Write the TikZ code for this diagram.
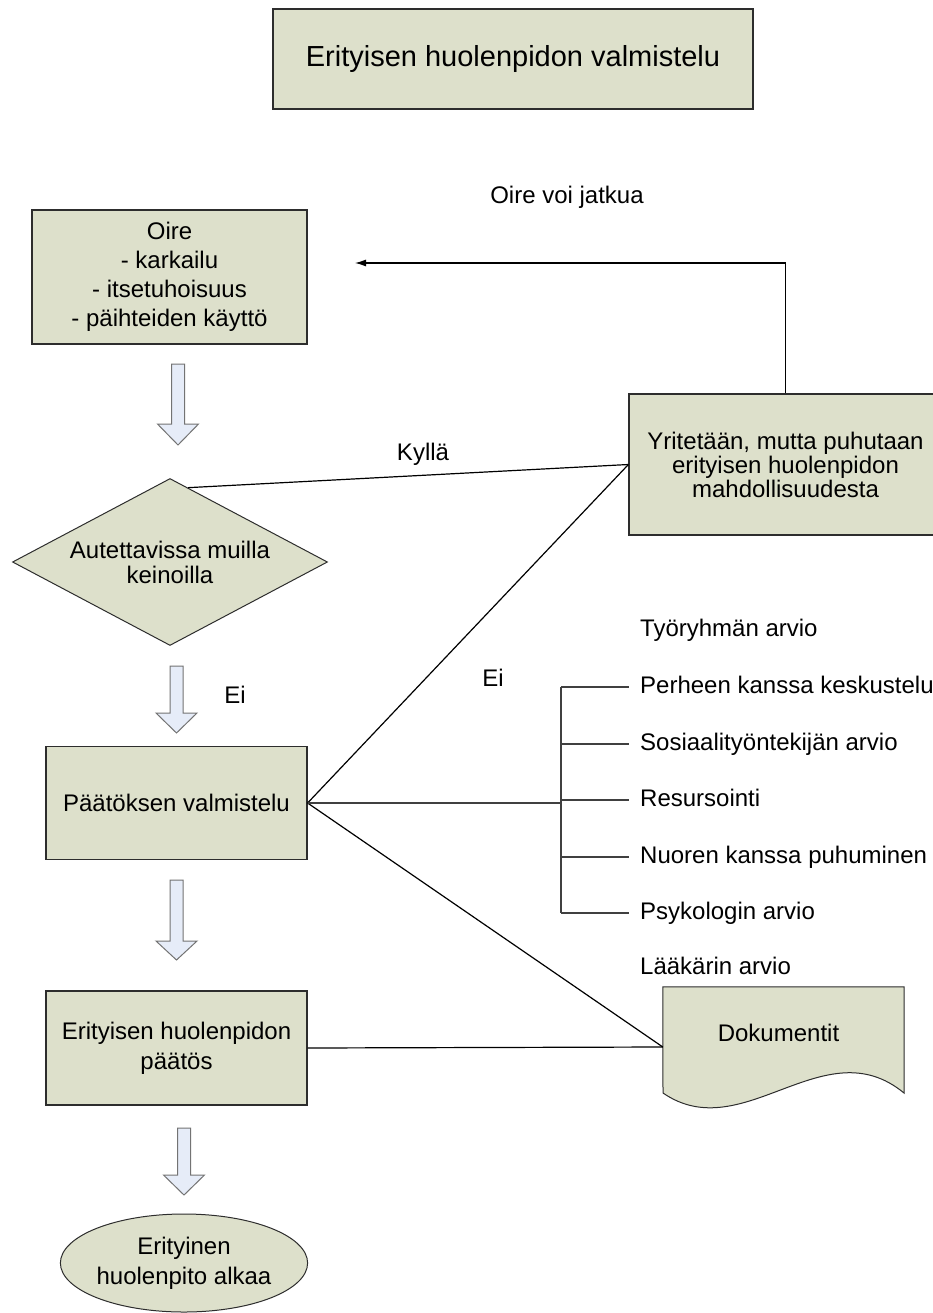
\documentclass[tikz,border=0pt]{standalone}
\usepackage{fontspec}
\setmainfont{Liberation Sans}
\usetikzlibrary{shapes.geometric,arrows.meta,calc}
\definecolor{boxfill}{RGB}{221,224,203}
\definecolor{boxline}{RGB}{45,45,45}
\definecolor{arrowfill}{RGB}{230,236,248}
\definecolor{arrowline}{RGB}{115,115,115}
\definecolor{brkline}{RGB}{64,64,64}
\tikzset{
  box/.style={draw=boxline, fill=boxfill, line width=1.2pt, inner sep=0pt, align=center, font=\fontsize{24}{29}\selectfont},
  conn/.style={draw=black, line width=1.2pt},
  lbl/.style={font=\fontsize{24}{29}\selectfont, inner sep=0pt},
  listlbl/.style={lbl, anchor=west, text height=17pt, text depth=5pt},
  brk/.style={draw=brkline, line width=1.2pt},
  barrow/.style={draw=arrowline, fill=arrowfill, line width=1pt},
}
\newcommand{\blkarrow}[4]{%
  \draw[barrow] (#1-6.5,#2) -- (#1+6.5,#2) -- (#1+6.5,#3) -- (#1+20.5,#3) -- (#1,#4) -- (#1-20.5,#3) -- (#1-6.5,#3) -- cycle;}
\begin{document}
\begin{tikzpicture}[x=1pt,y=-1pt]
\useasboundingbox[fill=white] (0,0) rectangle (932,1313);

% title
\node[box, minimum width=480pt, minimum height=100pt, font=\fontsize{29}{34}\selectfont] (title) at (513,59) {Erityisen huolenpidon valmistelu};

% symptom box
\node[box, minimum width=275pt, minimum height=134pt] (oire) at (169.5,277)
  {Oire\\- karkailu\\- itsetuhoisuus\\- päihteiden käyttö};

% right box
\node[box, minimum width=313pt, minimum height=141pt, font=\fontsize{24}{24}\selectfont] (yrit) at (785.5,464.5)
  {Yritetään, mutta puhutaan\\erityisen huolenpidon\\mahdollisuudesta};

% decision diamond
\node[diamond, draw=boxline, fill=boxfill, line width=1pt, inner sep=0pt, minimum width=315pt, minimum height=167pt] (dec) at (170,562) {};
\node[lbl, align=center, font=\fontsize{24}{25}\selectfont] (dectxt) at (170,562) {Autettavissa muilla\\keinoilla};

% decision preparation
\node[box, minimum width=261pt, minimum height=113pt] (paat) at (176.5,803) {Päätöksen valmistelu};

% decision
\node[box, minimum width=261pt, minimum height=114pt, font=\fontsize{24}{30}\selectfont] (pat) at (176.5,1048)
  {Erityisen huolenpidon\\päätös};

% ellipse
\node[ellipse, draw=boxline, fill=boxfill, line width=1pt, inner sep=0pt, minimum width=206pt, minimum height=98pt, align=center, font=\fontsize{24}{30}\selectfont] (alk) at (184,1263)
  {Erityinen\\huolenpito alkaa};

% document shape
\node[inner sep=0pt, minimum width=241pt, minimum height=120pt] (doc) at (783.5,1047) {};
\draw[draw=boxline, fill=boxfill, line width=1pt] (doc.north west) -- (doc.north east) -- (904,1093)
  .. controls (824,1027) and (743,1148) .. (663,1093) -- cycle;
\node[lbl] (doctxt) at (778.5,1033) {Dokumentit};

% block arrows
\blkarrow{178}{364}{424}{445}
\blkarrow{176.5}{666}{713}{733}
\blkarrow{176.5}{880}{941}{960}
\blkarrow{184}{1128}{1175}{1195}

% connectors
\coordinate (loopend) at (355,263);
\draw[conn, -{Latex[length=11pt,width=7pt]}] (yrit.north) |- (loopend);
\node[lbl] (oirejatkuu) at (567,197) {Oire voi jatkua};

\draw[conn] ($(dec.north)!0.115!(dec.east)$) -- (yrit.west);
\node[lbl] (kylla) at (423,454) {Kyllä};

\draw[conn] (paat.east) -- (yrit.west);
\node[lbl] (ei2) at (493,678) {Ei};
\node[lbl] (ei1) at (235,695) {Ei};

\draw[conn] (paat.east) -- (doc.west);
\draw[conn] (pat.east) -- (doc.west);

% bracket
\coordinate (bmid) at (561,803);
\coordinate (btop) at (561,687);
\coordinate (bbot) at (561,913);
\draw[brk] (paat.east) -- (bmid);
\draw[brk] (btop) -- (bbot);
\node[listlbl] (l0) at (640,630) {Työryhmän arvio};
\node[listlbl] (l1) at (640,687) {Perheen kanssa keskustelu};
\node[listlbl] (l2) at (640,744) {Sosiaalityöntekijän arvio};
\node[listlbl] (l3) at (640,800) {Resursointi};
\node[listlbl] (l4) at (640,857) {Nuoren kanssa puhuminen};
\node[listlbl] (l5) at (640,913) {Psykologin arvio};
\node[listlbl] (l6) at (640,968) {Lääkärin arvio};
\foreach \n/\yy in {l1/687,l2/744,l3/800,l4/857,l5/913}
  \draw[brk] (561,\yy) -- ([xshift=-11pt]\n.west);
\end{tikzpicture}
\end{document}
